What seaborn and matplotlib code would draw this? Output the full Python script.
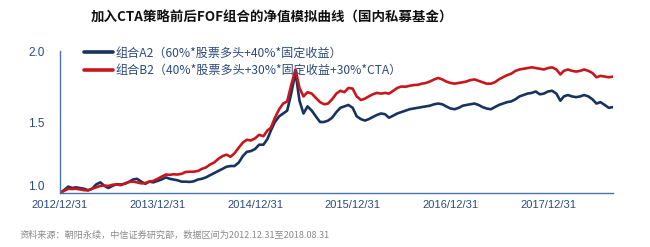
import numpy as np
import pandas as pd
import matplotlib
matplotlib.use("Agg")
import matplotlib.pyplot as plt
import seaborn as sns
from matplotlib.lines import Line2D

# ---------------- data ----------------
title = "加入CTA策略前后FOF组合的净值模拟曲线（国内私募基金）"
source = "资料来源：朝阳永续，中信证券研究部，数据区间为2012.12.31至2018.08.31"
series_names = ["组合A2（60%*股票多头+40%*固定收益）",
                "组合B2（40%*股票多头+30%*固定收益+30%*CTA）"]
tick_dates = ["2012-12-31", "2013-12-31", "2014-12-31", "2015-12-31",
              "2016-12-31", "2017-12-31"]
tick_labels = ["2012/12/31", "2013/12/31", "2014/12/31", "2015/12/31",
               "2016/12/31", "2017/12/31"]
y_ticks = [1.0, 1.5, 2.0]
start_date = "2012-12-31"
end_date = "2018-08-31"

navy_values = [
    1.000, 1.020, 1.045, 1.035, 1.040, 1.035, 1.030, 1.020, 1.030, 1.060,
    1.075, 1.050, 1.035, 1.050, 1.062, 1.060, 1.065, 1.078, 1.095, 1.100,
    1.080, 1.065, 1.080, 1.075, 1.085, 1.095, 1.110, 1.100, 1.095, 1.090,
    1.080, 1.080, 1.078, 1.082, 1.095, 1.100, 1.110, 1.125, 1.140, 1.155,
    1.170, 1.185, 1.190, 1.190, 1.215, 1.260, 1.290, 1.295, 1.310, 1.340,
    1.340, 1.380, 1.440, 1.500, 1.540, 1.560, 1.580, 1.700, 1.850, 1.650,
    1.560, 1.610, 1.580, 1.540, 1.500, 1.500, 1.510, 1.530, 1.570, 1.600,
    1.610, 1.620, 1.600, 1.540, 1.520, 1.510, 1.520, 1.535, 1.550, 1.560,
    1.555, 1.530, 1.545, 1.560, 1.570, 1.580, 1.590, 1.595, 1.600, 1.605,
    1.610, 1.615, 1.625, 1.630, 1.625, 1.610, 1.595, 1.590, 1.600, 1.615,
    1.620, 1.625, 1.630, 1.620, 1.605, 1.595, 1.590, 1.605, 1.620, 1.630,
    1.640, 1.645, 1.660, 1.680, 1.690, 1.700, 1.705, 1.715, 1.695, 1.700,
    1.715, 1.720, 1.700, 1.650, 1.680, 1.690, 1.680, 1.675, 1.680, 1.690,
    1.680, 1.660, 1.630, 1.640, 1.620, 1.600, 1.605,
]
red_values = [
    1.000, 1.015, 1.030, 1.028, 1.030, 1.025, 1.020, 1.018, 1.030, 1.040,
    1.050, 1.052, 1.050, 1.058, 1.060, 1.055, 1.068, 1.078, 1.080, 1.075,
    1.068, 1.070, 1.080, 1.085, 1.100, 1.115, 1.130, 1.128, 1.132, 1.130,
    1.135, 1.148, 1.150, 1.150, 1.155, 1.170, 1.180, 1.200, 1.215, 1.240,
    1.260, 1.270, 1.255, 1.280, 1.320, 1.355, 1.375, 1.370, 1.385, 1.410,
    1.400, 1.440, 1.460, 1.530, 1.590, 1.630, 1.645, 1.760, 1.870, 1.740,
    1.680, 1.710, 1.700, 1.670, 1.640, 1.625, 1.630, 1.660, 1.700, 1.720,
    1.710, 1.740, 1.735, 1.680, 1.655, 1.665, 1.680, 1.695, 1.705, 1.700,
    1.705, 1.700, 1.720, 1.740, 1.750, 1.748, 1.755, 1.760, 1.762, 1.770,
    1.775, 1.785, 1.800, 1.810, 1.800, 1.785, 1.775, 1.770, 1.775, 1.780,
    1.785, 1.795, 1.800, 1.790, 1.780, 1.770, 1.770, 1.780, 1.800, 1.815,
    1.830, 1.840, 1.860, 1.870, 1.875, 1.880, 1.885, 1.880, 1.875, 1.870,
    1.880, 1.885, 1.870, 1.835, 1.860, 1.870, 1.860, 1.855, 1.860, 1.870,
    1.860, 1.845, 1.815, 1.825, 1.820, 1.815, 1.820,
]

# semi-monthly observation dates
try:
    dates = pd.date_range(start_date, end_date, freq="SME")
except Exception:
    dates = pd.date_range(start_date, end_date, freq="SM")
dates = dates[:len(navy_values)]

df = pd.DataFrame({
    "date": np.concatenate([dates, dates]),
    "value": navy_values + red_values,
    "series": [series_names[0]] * len(navy_values) + [series_names[1]] * len(red_values),
})

# ---------------- style ----------------
sns.set_style("white")
plt.rcParams["font.family"] = ["Noto Sans CJK SC", "DejaVu Sans"]

navy = "#17335f"
red = "#c8161d"
axis_col = "#4a72a8"
label_col = "#2c4a7c"

fig = plt.figure(figsize=(6.5, 2.47), dpi=100)
ax = fig.add_axes([0.0923, 0.2186, 0.8508, 0.5749])

sns.lineplot(data=df, x="date", y="value", hue="series",
             palette=[navy, red], linewidth=1.9, ax=ax, legend=False)

ax.set_xlim(pd.Timestamp(start_date), pd.Timestamp(end_date))
ax.set_ylim(1.0, 2.0)
ax.set_yticks(y_ticks)
ax.set_yticklabels([f"{v:.1f}" for v in y_ticks])
ax.set_xticks(pd.to_datetime(tick_dates))
ax.set_xticklabels(tick_labels)
ax.set_xlabel("")
ax.set_ylabel("")

for s in ["top", "right"]:
    ax.spines[s].set_visible(False)
for s in ["left", "bottom"]:
    ax.spines[s].set_color(axis_col)
    ax.spines[s].set_linewidth(1.0)

ax.tick_params(axis="x", direction="inout", length=5, width=0.8, color=axis_col,
               labelcolor=label_col, labelsize=8, pad=2.5,
               labelfontfamily="Liberation Sans")
ax.tick_params(axis="y", direction="out", length=3, width=0.8, color=axis_col,
               labelcolor=label_col, labelsize=8.5, pad=8,
               labelfontfamily="Liberation Sans")
# lift the bottom y label a little so it sits above the first date label
ax.get_yticklabels()[0].set_va("bottom")

handles = [Line2D([], [], color=navy, linewidth=2.6),
           Line2D([], [], color=red, linewidth=2.6)]
leg = ax.legend(handles, series_names, loc="upper left",
                bbox_to_anchor=(0.035, 1.065), frameon=False,
                fontsize=8.7, handlelength=2.4, handletextpad=0.2,
                labelspacing=0.35, borderaxespad=0)
for t in leg.get_texts():
    t.set_color(label_col)

fig.text(272 / 650, 1 - 18 / 247, title, ha="center", va="center",
         fontsize=9.7, fontweight="bold", color="#111111")
fig.text(20 / 650, 1 - 235 / 247, source, ha="left", va="center",
         fontsize=6.6, color="#8a8a8a")

fig.savefig("out.png", dpi=100)
